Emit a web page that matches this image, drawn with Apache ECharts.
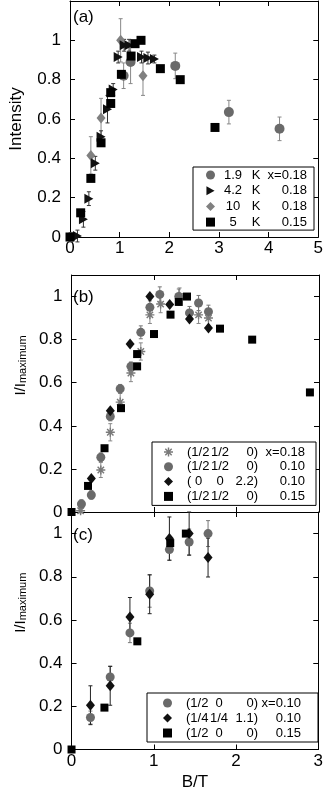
<!DOCTYPE html>
<html>
<head>
<meta charset="utf-8">
<script src="https://cdn.jsdelivr.net/npm/echarts@6/dist/echarts.min.js"></script>
<style>
  html, body { margin: 0; padding: 0; background: #fff; }
  #chart { width: 326px; height: 795px; }
</style>
</head>
<body>
<div id="chart"></div>
<script>
// points are [B, value, error]
// panel (a)
var a19 = [[0.02, 0, 0], [1.08, 0.82, 0.065], [1.22, 0.89, 0.11], [2.12, 0.87, 0.065], [3.2, 0.635, 0.06], [4.22, 0.55, 0.06]];
var a42 = [[0.15, 0.005, 0.03], [0.27, 0.09, 0.04], [0.38, 0.195, 0.035], [0.51, 0.375, 0.035], [0.625, 0.51, 0.03],
  [0.755, 0.65, 0.07], [0.87, 0.75, 0.03], [0.97, 0.915, 0.03], [1.09, 0.975, 0.03], [1.19, 0.975, 0.03],
  [1.44, 0.915, 0.03], [1.57, 0.91, 0.03], [1.70, 0.905, 0.02]];
var a10 = [[0.03, 0, 0.02], [0.42, 0.415, 0.095], [0.625, 0.605, 0.1], [1.02, 1.0, 0.11], [1.47, 0.82, 0.1]];
var a5 = [[0, 0, 0], [0.215, 0.123, 0], [0.42, 0.298, 0], [0.625, 0.479, 0], [0.82, 0.679, 0], [0.82, 0.734, 0],
  [1.035, 0.827, 0], [1.23, 0.92, 0], [1.31, 0.983, 0], [1.43, 1.0, 0], [1.82, 0.856, 0], [2.22, 0.80, 0], [2.92, 0.557, 0]];
// panel (b)
var b18 = [[0.11, 0.006, 0.01], [0.355, 0.195, 0.035], [0.47, 0.37, 0.04], [0.59, 0.51, 0.04], [0.72, 0.645, 0.04],
  [0.84, 0.745, 0.04], [0.95, 0.915, 0.04], [1.08, 0.965, 0.04], [1.31, 1.0, 0.04], [1.54, 0.915, 0.04], [1.66, 0.9, 0.04]];
var b10 = [[0.12, 0.037, 0.02], [0.24, 0.079, 0.02], [0.355, 0.254, 0.02], [0.47, 0.443, 0.02], [0.59, 0.572, 0.02],
  [0.72, 0.676, 0.02], [0.84, 0.834, 0.03], [0.95, 0.95, 0.03], [1.07, 1.01, 0.035], [1.30, 1.0, 0.035],
  [1.43, 0.924, 0.03], [1.54, 0.97, 0.035], [1.66, 0.93, 0.03]];
var b22 = [[0.24, 0.156, 0], [0.47, 0.47, 0], [0.71, 0.78, 0], [0.95, 1.0, 0], [1.19, 0.963, 0], [1.43, 0.896, 0], [1.66, 0.854, 0]];
var b15 = [[0, 0, 0], [0.20, 0.121, 0], [0.40, 0.296, 0], [0.60, 0.482, 0], [0.795, 0.733, 0], [0.795, 0.676, 0],
  [1.0, 0.826, 0], [1.20, 0.916, 0], [1.30, 0.975, 0], [1.40, 1.0, 0], [1.80, 0.851, 0], [2.19, 0.80, 0], [2.89, 0.555, 0]];
// panel (c)
var c10 = [[0.23, 0.148, 0.03], [0.47, 0.336, 0.05], [0.71, 0.54, 0.045], [0.95, 0.734, 0.075], [1.19, 0.926, 0.05],
  [1.43, 0.961, 0.06], [1.66, 1.0, 0.06]];
var c11 = [[0.23, 0.205, 0.09], [0.47, 0.295, 0.09], [0.71, 0.614, 0.09], [0.95, 0.719, 0.09], [1.19, 0.977, 0.1],
  [1.43, 1.0, 0.1], [1.66, 0.889, 0.09]];
var c15 = [[0, 0, 0], [0.40, 0.194, 0], [0.80, 0.501, 0], [1.20, 0.956, 0], [1.39, 1.0, 0]];

var xMax = [5, 3, 3];
var yMax = [1.2, 1.1, 1.1];
var xTicks = 1, yTicks = 0.2;

var FONT = '"Liberation Sans", Arial, Helvetica, sans-serif';
var GRAY = '#6a6a6a';
var STAR = 'path://M-0.8,-5L0.8,-5L0.8,5L-0.8,5Z M-5,-0.8L5,-0.8L5,0.8L-5,0.8Z M2.97,4.11L-4.11,-2.97L-2.97,-4.11L4.11,2.97Z M4.11,-2.97L-2.97,4.11L-4.11,2.97L2.97,-4.11Z';
var TRI = 'path://M0,0L9,5L0,10Z';

var labels = {
  a19: '{t1|1.9}{t2|K}{t3|x=0.18}',
  a42: '{t1|4.2}{t2|K}{t3|0.18}',
  a10: '{t1|10}{t2|K}{t3|0.18}',
  a5: '{t1|5}{t2|K}{t3|0.15}',
  b18: '{u1|(1/2}{u2|1/2}{u3|0)}{u4|x=0.18}',
  b10: '{u1|(1/2}{u2|1/2}{u3|0)}{u4|0.10}',
  b22: '{u1|( 0}{u2|0}{u3|2.2)}{u4|0.10}',
  b15: '{u1|(1/2}{u2|1/2}{u3|0)}{u4|0.15}',
  c10: '{v1|(1/2}{v2|0}{v3|0)}{v4|x=0.10}',
  c11: '{v1|(1/4}{v2|1/4}{v3|1.1)}{v4|0.10}',
  c15: '{v1|(1/2}{v2|0}{v3|0)}{v4|0.15}'
};

var chart = echarts.init(document.getElementById('chart'), null, { renderer: 'canvas' });

function xAxes(g, labelOn) {
  var base = {
    gridIndex: g, type: 'value', min: 0, max: xMax[g], interval: xTicks,
    axisLine: { onZero: false, lineStyle: { color: '#000', width: 1 } },
    axisTick: { inside: true, length: 5, lineStyle: { color: '#000' } },
    splitLine: { show: false }
  };
  var bottom = Object.assign({}, base, {
    position: 'bottom',
    axisLabel: { show: labelOn, color: '#000', fontSize: 17, fontFamily: FONT, margin: 3 }
  });
  if (g === 2) {
    bottom.name = 'B/T';
    bottom.nameLocation = 'middle';
    bottom.nameGap = 24;
    bottom.nameTextStyle = { color: '#000', fontSize: 17, fontFamily: FONT };
  }
  var top = Object.assign({}, base, { position: 'top', axisLabel: { show: false } });
  return [bottom, top];
}

function yAxes(g, name) {
  var base = {
    gridIndex: g, type: 'value', min: 0, max: yMax[g], interval: yTicks,
    axisLine: { onZero: false, lineStyle: { color: '#000', width: 1 } },
    axisTick: { inside: true, length: 5, lineStyle: { color: '#000' } },
    splitLine: { show: false }
  };
  var left = Object.assign({}, base, {
    position: 'left',
    axisLabel: { color: '#000', fontSize: 17, fontFamily: FONT, margin: 9, showMaxLabel: false },
    name: name, nameLocation: 'middle'
  });
  if (g === 0) {
    left.nameGap = 45;
    left.nameTextStyle = { color: '#000', fontSize: 17, fontFamily: FONT };
  } else {
    left.nameGap = 38;
    left.nameTextStyle = {
      color: '#000', fontFamily: FONT,
      rich: {
        p: { width: 56, fontSize: 15, lineHeight: 15 },
        m: { fontSize: 15, lineHeight: 15, fontFamily: FONT, verticalAlign: 'top' },
        s: { fontSize: 11, lineHeight: 11, fontFamily: FONT, verticalAlign: 'bottom', padding: [9, 0, 0, 0] }
      }
    };
  }
  var right = Object.assign({}, base, { position: 'right', axisLabel: { show: false } });
  return [left, right];
}

function errBars(g, data, color) {
  return {
    type: 'custom', xAxisIndex: 2 * g, yAxisIndex: 2 * g, data: data, z: 1, silent: true,
    encode: { x: 0, y: 1 },
    renderItem: function (params, api) {
      var x = api.value(0), y = api.value(1), e = api.value(2);
      if (!e) return null;
      var hi = api.coord([x, y + e]);
      var lo = api.coord([x, y - e]);
      var st = { stroke: color, lineWidth: 1 };
      return {
        type: 'group',
        children: [
          { type: 'line', shape: { x1: hi[0], y1: hi[1], x2: lo[0], y2: lo[1] }, style: st },
          { type: 'line', shape: { x1: hi[0] - 2, y1: hi[1], x2: hi[0] + 2, y2: hi[1] }, style: st },
          { type: 'line', shape: { x1: lo[0] - 2, y1: lo[1], x2: lo[0] + 2, y2: lo[1] }, style: st }
        ]
      };
    }
  };
}

function dots(g, name, data, color, symbol, size) {
  return {
    type: 'scatter', name: name, xAxisIndex: 2 * g, yAxisIndex: 2 * g, clip: false, z: 3,
    data: data.map(function (d) { return [d[0], d[1]]; }),
    symbol: symbol, symbolSize: size,
    itemStyle: { color: color, opacity: 1 }
  };
}

function legend(names, left, top, pad, gap, rich) {
  return {
    orient: 'vertical', left: left, top: top, padding: pad, itemGap: gap,
    itemWidth: 9, itemHeight: 9, borderColor: '#000', borderWidth: 1, borderRadius: 0,
    backgroundColor: '#fff', selectedMode: false,
    data: names,
    formatter: function (n) { return labels[n]; },
    textStyle: { color: '#000', fontSize: 13, lineHeight: 14, fontFamily: FONT, rich: rich }
  };
}

function rich(widths, aligns, firstPad) {
  var r = {};
  var keys = Object.keys(widths);
  keys.forEach(function (k, i) {
    r[k] = { width: widths[k], align: aligns[i], fontSize: 13, lineHeight: 14, fontFamily: FONT, color: '#000' };
  });
  if (firstPad) r[keys[0]].padding = [0, 0, 0, firstPad];
  return r;
}

var option = {
  animation: false,
  backgroundColor: '#fff',
  title: [
    { text: '(a)', left: 73, top: 9, padding: 0, textStyle: { fontSize: 17, fontWeight: 'normal', fontFamily: FONT, color: '#000' } },
    { text: '(b)', left: 73, top: 289, padding: 0, textStyle: { fontSize: 17, fontWeight: 'normal', fontFamily: FONT, color: '#000' } },
    { text: '(c)', left: 73, top: 527, padding: 0, textStyle: { fontSize: 17, fontWeight: 'normal', fontFamily: FONT, color: '#000' } }
  ],
  grid: [
    { left: 64, top: 1, width: 255, height: 236 },
    { left: 62, top: 275, width: 257, height: 237 },
    { left: 62, top: 512, width: 257, height: 237.5 }
  ],
  xAxis: [].concat(xAxes(0, true), xAxes(1, false), xAxes(2, true)),
  yAxis: [].concat(yAxes(0, 'Intensity'), yAxes(1, '{p|}{m|I/I}{s|maximum}'), yAxes(2, '{p|}{m|I/I}{s|maximum}')),
  legend: [
    legend(['a19', 'a42', 'a10', 'a5'], 193, 167, [1, 7, 1, 13], 1.7,
      rich({ t1: 26, t2: 20, t3: 41 }, ['right', 'center', 'right'])),
    legend(['b18', 'b10', 'b22', 'b15'], 152, 442, [3, 11, 2, 12], 0.8,
      rich({ u1: 23, u2: 20, u3: 28, u4: 47 }, ['left', 'center', 'right', 'right'], 9)),
    legend(['c10', 'c11', 'c15'], 147, 693, [3, 17, 2, 16], 1,
      rich({ v1: 23, v2: 20, v3: 29, v4: 43 }, ['left', 'center', 'right', 'right'], 9))
  ],
  series: [
    errBars(0, a19, '#888'), errBars(0, a10, '#888'), errBars(0, a42, '#333'),
    dots(0, 'a19', a19, GRAY, 'circle', 10),
    dots(0, 'a10', a10, '#808080', 'diamond', [9, 11]),
    dots(0, 'a42', a42, '#111', TRI, [9, 10]),
    dots(0, 'a5', a5, '#000', 'rect', 9),

    errBars(1, b18, '#888'), errBars(1, b10, '#777'),
    dots(1, 'b18', b18, '#7a7a7a', STAR, 9),
    dots(1, 'b10', b10, GRAY, 'circle', 9),
    dots(1, 'b22', b22, '#111', 'diamond', [9, 11]),
    dots(1, 'b15', b15, '#000', 'rect', 8),

    errBars(2, c10, '#777'), errBars(2, c11, '#222'),
    dots(2, 'c10', c10, GRAY, 'circle', 9),
    dots(2, 'c11', c11, '#111', 'diamond', [9, 11]),
    dots(2, 'c15', c15, '#000', 'rect', 8)
  ]
};

chart.setOption(option);
</script>
</body>
</html>
